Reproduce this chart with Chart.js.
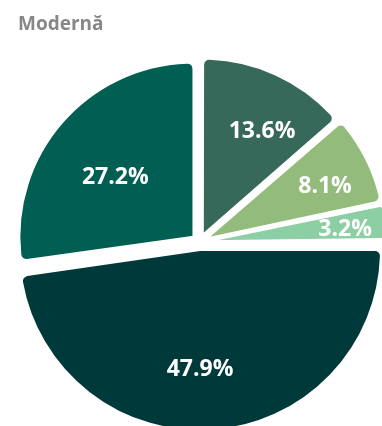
<!DOCTYPE html>
<html>
<head>
<meta charset="utf-8">
<script src="https://cdn.jsdelivr.net/npm/chart.js@4"></script>
<style>
  html, body { margin: 0; padding: 0; overflow: hidden; background: #fff; }
  #wrap { position: relative; width: 382px; height: 426px; overflow: hidden; }
  #title {
    position: absolute; left: 18px; top: 10px;
    font: bold 19px "Open Sans", sans-serif; color: #878787;
  }
  canvas { position: absolute; left: 0; top: 0; }
</style>
</head>
<body>
<div id="wrap">
  <canvas id="pie" width="399" height="484"></canvas>
  <div id="title">Modernă</div>
</div>
<script>
// Data
const categories = ['A', 'B', 'C', 'D', 'E'];
const shares = [13.6, 8.1, 3.2, 47.9, 27.2];
const sliceColors = ['#37695a', '#93bc7c', '#8dcfa5', '#00393a', '#005f52'];

// label placement tweaks (fraction of radius, extra turn in degrees)
const labelRadius = [0.73, 0.79, 0.84, 0.73, 0.61];
const labelTurn = [5, 2.4, 1, 3.9, -3.5];

// percent labels inside the slices
const sliceLabels = {
    id: 'sliceLabels',
    afterDatasetsDraw(chart) {
        const ctx = chart.ctx;
        const meta = chart.getDatasetMeta(0);
        ctx.save();
        ctx.font = 'bold 23px "Open Sans", sans-serif';
        ctx.fillStyle = '#ffffff';
        ctx.textAlign = 'center';
        ctx.textBaseline = 'middle';
        meta.data.forEach((arc, i) => {
            const mid = (arc.startAngle + arc.endAngle) / 2;
            const a = mid + labelTurn[i] * Math.PI / 180;
            const r = chart.config.options.radius * labelRadius[i];
            const x = arc.x + Math.cos(a) * r;
            const y = arc.y + Math.sin(a) * r;
            ctx.fillText(shares[i].toFixed(1) + '%', x, y);
        });
        ctx.restore();
    }
};

new Chart(document.getElementById('pie'), {
    type: 'pie',
    data: {
        labels: categories,
        datasets: [{
            data: shares,
            backgroundColor: sliceColors,
            borderColor: '#ffffff',
            borderWidth: 2,
            borderRadius: 6,
            offset: 32
        }]
    },
    options: {
        responsive: false,
        animation: false,
        radius: 174,
        layout: { padding: 0 },
        plugins: {
            legend: { display: false },
            tooltip: { enabled: false }
        }
    },
    plugins: [sliceLabels]
});
</script>
</body>
</html>
